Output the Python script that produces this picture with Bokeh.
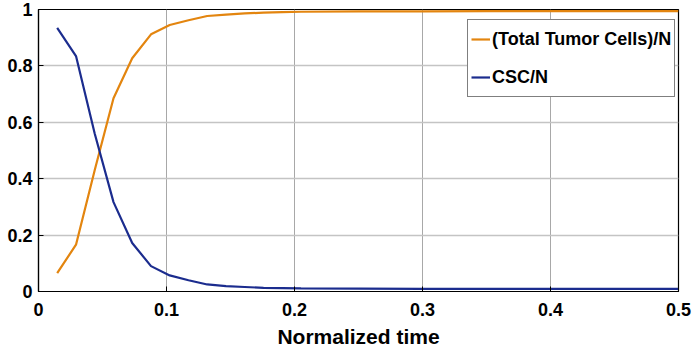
from bokeh.plotting import figure
from bokeh.models import FixedTicker, NumeralTickFormatter, Legend, LegendItem, Range1d
from bokeh.embed import file_html
from bokeh.resources import INLINE

time = [0.0146, 0.0293, 0.0439, 0.0586, 0.0732, 0.0879, 0.1025, 0.1172, 0.1318, 0.1465,
        0.1611, 0.1758, 0.1904, 0.2051, 0.25, 0.3, 0.35, 0.4, 0.45, 0.5]
total_tumor = [0.065, 0.166, 0.43, 0.685, 0.827, 0.912, 0.945, 0.962, 0.977, 0.982,
               0.986, 0.989, 0.991, 0.992, 0.993, 0.993, 0.994, 0.994, 0.994, 0.994]
csc = [0.935, 0.835, 0.56, 0.317, 0.172, 0.09, 0.057, 0.04, 0.025, 0.019,
       0.016, 0.013, 0.012, 0.011, 0.010, 0.009, 0.009, 0.009, 0.009, 0.009]
x_ticks = [0, 0.1, 0.2, 0.3, 0.4, 0.5]
y_ticks = [0, 0.2, 0.4, 0.6, 0.8, 1]
series_names = ["(Total Tumor Cells)/N", "CSC/N"]
x_label = "Normalized time"

FONT = "Liberation Sans"
ORANGE = "#e3850f"
BLUE = "#1b2c8e"

p = figure(width=692, height=353, output_backend="svg", toolbar_location=None,
           x_range=Range1d(0, 0.5), y_range=Range1d(0, 1),
           min_border_left=38, min_border_right=14, min_border_top=9, min_border_bottom=62)
p.background_fill_color = "white"
p.border_fill_color = "white"
p.outline_line_color = "black"
p.outline_line_width = 1.2

r1 = p.line(time, total_tumor, line_color=ORANGE, line_width=2.2)
r2 = p.line(time, csc, line_color=BLUE, line_width=2.2)

p.xaxis.ticker = FixedTicker(ticks=x_ticks)
p.yaxis.ticker = FixedTicker(ticks=y_ticks)
p.axis.formatter = NumeralTickFormatter(format="0.[0]")
p.axis.major_tick_in = 5
p.axis.major_tick_out = 0
p.axis.minor_tick_in = 0
p.axis.minor_tick_out = 0
p.axis.axis_line_color = "black"
p.axis.axis_line_width = 1.2
p.axis.major_tick_line_color = "black"
p.axis.major_label_text_font = FONT
p.axis.major_label_text_font_style = "bold"
p.axis.major_label_text_font_size = "18px"
p.axis.major_label_text_color = "black"

p.xaxis.major_label_standoff = 11
p.yaxis.major_label_standoff = 6
p.xaxis.axis_label = x_label
p.xaxis.axis_label_text_font = FONT
p.xaxis.axis_label_text_font_style = "bold"
p.xaxis.axis_label_text_font_size = "21px"
p.xaxis.axis_label_text_color = "black"
p.xaxis.axis_label_standoff = 6

p.xgrid.ticker = FixedTicker(ticks=x_ticks)
p.ygrid.ticker = FixedTicker(ticks=y_ticks)
p.xgrid.grid_line_color = "#a8a8a8"
p.ygrid.grid_line_color = "#c4c4c4"
p.ygrid.grid_line_width = 1.3

legend = Legend(items=[LegendItem(label=series_names[0], renderers=[r1]),
                       LegendItem(label=series_names[1], renderers=[r2])],
                location=(429, 194))
legend.border_line_color = "black"
legend.border_line_width = 1
legend.background_fill_color = "white"
legend.background_fill_alpha = 1
legend.padding = 3
legend.margin = 0
legend.spacing = 6
legend.glyph_width = 19
legend.glyph_height = 32
legend.label_height = 32
legend.label_width = 178
legend.label_standoff = 2
legend.label_text_font = FONT
legend.label_text_font_style = "bold"
legend.label_text_font_size = "18px"
legend.label_text_color = "black"
p.add_layout(legend)

open("out.html", "w").write(file_html(p, INLINE))
